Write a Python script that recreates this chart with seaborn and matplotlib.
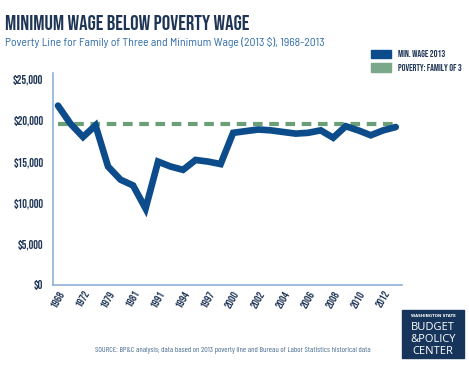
import pandas as pd
import matplotlib.pyplot as plt
import seaborn as sns
from matplotlib.patches import Patch, Rectangle

years = ["1968", "1970", "1972", "1974", "1979", "1980", "1981", "1990",
         "1991", "1992", "1994", "1996", "1997", "1998", "2000", "2001",
         "2002", "2003", "2004", "2005", "2006", "2007", "2008", "2009",
         "2010", "2011", "2012", "2013"]
min_wage = [21800, 19600, 18000, 19400, 14400, 12800, 12100, 9300,
            15000, 14400, 14000, 15200, 15000, 14700, 18500, 18700,
            18900, 18800, 18600, 18400, 18500, 18800, 17900, 19300,
            18800, 18200, 18800, 19200]
poverty_line = 19530
y_ticks = [0, 5000, 10000, 15000, 20000, 25000]

blue = "#0d4c8b"
green = "#6a9f78"
navy = "#1f3556"
axis_col = "#8fb3d6"

# fonts (with fallbacks)
cond = ["Bebas Neue", "Barlow Condensed", "DejaVu Sans"]
semi = ["Barlow Semi Condensed", "Barlow", "DejaVu Sans"]
small = ["Barlow Condensed", "DejaVu Sans"]

df = pd.DataFrame({"year": years, "wage": min_wage})
df["idx"] = range(len(df))
df["poverty"] = poverty_line

sns.set_style("white")
plt.rcParams["font.family"] = ["DejaVu Sans"]

fig = plt.figure(figsize=(4.69, 3.72), dpi=100)
ax = fig.add_axes([53 / 469, 1 - 285 / 372, (402 - 53) / 469, (285 - 73) / 372])

sns.lineplot(data=df, x="idx", y="poverty", ax=ax, color=green, linewidth=3.0,
             linestyle=(0, (2.3, 1.6)))
sns.lineplot(data=df, x="idx", y="wage", ax=ax, color=blue, linewidth=4.8)
for ln in ax.lines[1:]:
    ln.set_solid_joinstyle("miter")

ax.set_xlim(-0.4, 27.5)
ax.set_ylim(0, 25770)
ax.set_xticks(df["idx"][::2])
ax.set_xticklabels(years[::2], rotation=60, ha="right", rotation_mode="anchor",
                   fontsize=8, color=navy, family=cond)
ax.set_yticks(y_ticks)
ax.set_yticklabels([f"${v:,}" for v in y_ticks], fontsize=8.5, color=navy,
                   family=cond)
ax.tick_params(axis="both", length=0, pad=3)
ax.tick_params(axis="y", pad=7)
ax.set_xlabel("")
ax.set_ylabel("")
sns.despine(ax=ax)
for s in ["left", "bottom"]:
    ax.spines[s].set_color(axis_col)
    ax.spines[s].set_linewidth(1.2)

fig.text(5 / 469, 1 - 23 / 372, "MINIMUM WAGE BELOW POVERTY WAGE", fontsize=15,
         color=navy, va="center", ha="left", family=cond)
fig.text(5 / 469, 1 - 42 / 372,
         "Poverty Line for Family of Three and Minimum Wage (2013 $), 1968-2013",
         fontsize=8.4, color="#2f6ca8", va="center", ha="left", family=semi)

handles = [Patch(color=blue, label="MIN. WAGE 2013"),
           Patch(color="#7aa889", label="POVERTY: FAMILY OF 3")]
leg = fig.legend(handles=handles, loc="upper left",
                 bbox_to_anchor=(362 / 469, 1 - 41 / 372), frameon=False,
                 handlelength=2.2, handleheight=1.0, handletextpad=0.7,
                 labelspacing=0.55, prop={"size": 6.8, "family": cond})
for t in leg.get_texts():
    t.set_color(navy)

fig.text(233 / 469, 1 - 351 / 372,
         "SOURCE: BP&C analysis; data based on 2013 poverty line and Bureau of Labor Statistics historical data",
         fontsize=5.7, color="#4a6d92", ha="center", va="center", family=small)

fig.add_artist(Rectangle((402 / 469, 1 - 358 / 372), 62 / 469, 48 / 372,
                         transform=fig.transFigure, color="#17355a"))
logo_x = 433 / 469
fig.text(logo_x, 1 - 316 / 372, "WASHINGTON STATE", fontsize=2.8, color="white",
         ha="center", va="center", fontweight="bold")
for y, word in [(327, "BUDGET"), (339, "&POLICY"), (351, "CENTER")]:
    fig.text(logo_x, 1 - y / 372, word, fontsize=8, color="white",
             ha="center", va="center", family=["Open Sans", "DejaVu Sans"])

plt.savefig("out.png", dpi=100)
plt.close()
